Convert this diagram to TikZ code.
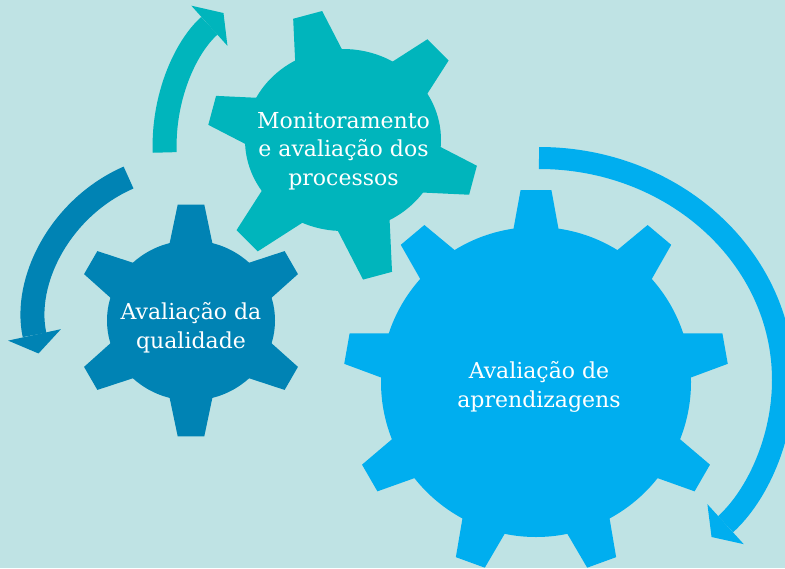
\documentclass[tikz,border=0pt]{standalone}
\usepackage{fontspec}
\setmainfont{DejaVu Serif}
\usetikzlibrary{calc,arrows.meta}
\definecolor{bgc}{HTML}{BFE3E4}
\definecolor{tealc}{HTML}{00B5BC}
\definecolor{darkc}{HTML}{0083B4}
\definecolor{lightc}{HTML}{00AEEF}
% #1 centre, #2 inner radius, #3 tip radius, #4 half width at inner radius, #5 half tip width, #6 first angle, #7 teeth, #8 colour
\newcommand\gearteeth[8]{%
  \foreach \k in {1,...,#7}{%
    \pgfmathsetmacro\ga{#6+(\k-1)*360/#7}%
    \pgfmathsetmacro\gl{\ga+90}%
    \pgfmathsetmacro\gm{\ga-90}%
    \fill[#8] ($(#1)+(\ga:#2)+(\gl:#4)$) -- ($(#1)+(\ga:#3)+(\gl:#5)$) --
      ($(#1)+(\ga:#3)+(\gm:#5)$) -- ($(#1)+(\ga:#2)+(\gm:#4)$) -- cycle;
  }%
}
\begin{document}
\begin{tikzpicture}[x=1pt,y=-1pt,
  lbl/.style={text=white,font=\fontsize{22}{28.5}\selectfont,align=center,inner sep=0pt},
  ringarrow/.style={line cap=butt,-{Triangle[length=19pt,width=54pt,line width=0pt]}}]
\useasboundingbox (0,0) rectangle (785,568);
\fill[bgc] (0,0) rectangle (785,568);
% gear centres
\coordinate (tealg) at (342.6,145.3);
\coordinate (tealb) at (343,140);
\coordinate (darkg) at (191,320.5);
\coordinate (lightg) at (536,382);
\coordinate (lightarc) at (539,380);
% gears
\fill[tealc] (tealb) ellipse[x radius=98,y radius=91];
\gearteeth{tealg}{80}{135}{27}{15}{-105}{6}{tealc}
\fill[darkc] (darkg) ellipse[x radius=84,y radius=80];
\gearteeth{darkg}{70}{115.8}{22.9}{13.3}{30}{6}{darkc}
\fill[lightc] (lightg) circle[radius=155];
\gearteeth{lightg}{140}{192}{24.9}{15.4}{-90}{9}{lightc}
% arrows
\coordinate (tealtail) at ($(tealg)+(177.7:178)$);
\coordinate (darktail) at ($(darkg)+(246.4:156)$);
\coordinate (lighttail) at ($(lightarc)+(270:244 and 222)$);
\draw[ringarrow,tealc,line width=24pt] (tealtail) arc[start angle=177.7,end angle=228,radius=178];
\draw[ringarrow,darkc,line width=24pt] (darktail) arc[start angle=246.4,end angle=167.8,radius=156];
\draw[ringarrow,lightc,line width=22pt] (lighttail) arc[start angle=270,end angle=405,x radius=244,y radius=222];
% labels
\node[lbl] (tealtext) at (343.5,150.9) {Monitoramento\\e avaliação dos\\processos};
\node[lbl] (darktext) at (191,327.5) {Avaliação da\\qualidade};
\node[lbl] (lighttext) at (539,386.7) {Avaliação de\\aprendizagens};
\end{tikzpicture}
\end{document}
